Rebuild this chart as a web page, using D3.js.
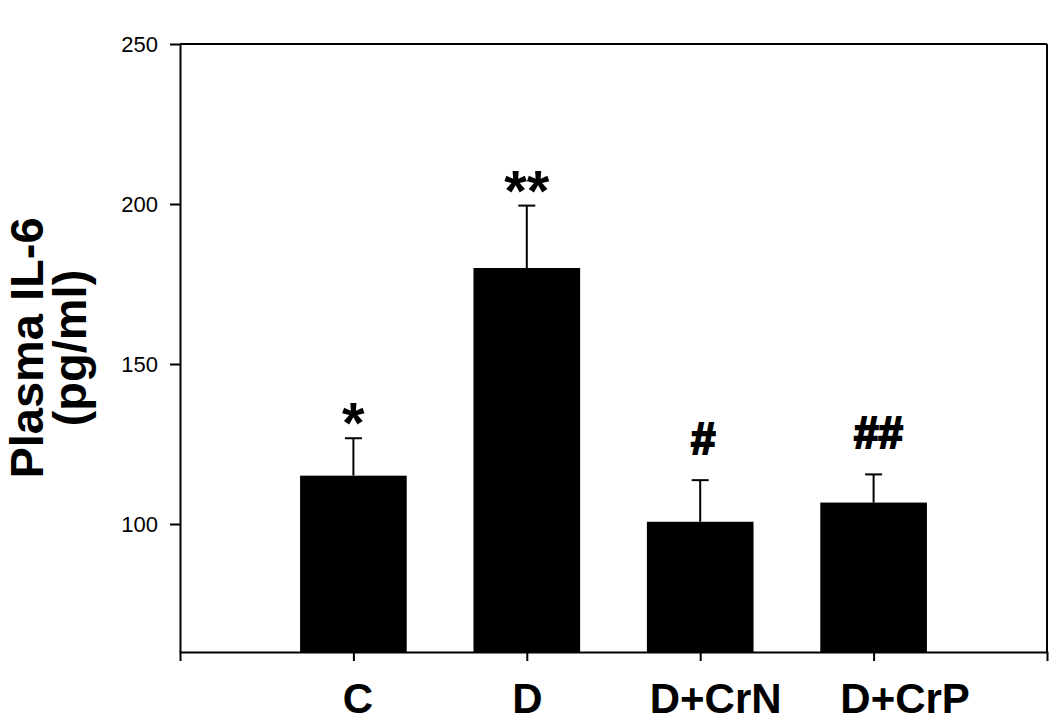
<!DOCTYPE html>
<html>
<head>
<meta charset="utf-8">
<script src="https://cdn.jsdelivr.net/npm/d3@7"></script>
<style>
  html, body { margin: 0; padding: 0; background: #fff; }
  svg { display: block; }
  text { font-family: "Liberation Sans", Arial, Helvetica, sans-serif; fill: #000; }
</style>
</head>
<body>
<svg id="chart" width="1050" height="721"></svg>
<script>
// ---- data ----
const categories = ["C", "D", "D+CrN", "D+CrP"];
const means = [115.1, 180.0, 100.7, 106.7];
const errors = [11.7, 19.5, 13.0, 8.8];
const marks = ["*", "**", "#", "##"];
const yTicks = [100, 150, 200, 250];
const yDomain = [60, 250];
const yLabelLines = ["Plasma IL-6", "(pg/ml)"];

// ---- layout ----
(function () {
const svg = d3.select("#chart");
const mLeft = 180, mRight = 1047, mTop = 44, mBottom = 652;
const labelNudge = [4, 0, 15, 31];   // horizontal offsets of category labels, px
const yLabelBaselines = [43, 86];    // x positions of the rotated label lines, px

const x = d3.scalePoint().domain(categories).range([mLeft, mRight]).padding(1);
const y = d3.scaleLinear().domain(yDomain).range([mBottom, mTop]);
const barW = x.step() * 0.615;

// bars
svg.append("g").selectAll("rect").data(categories).join("rect")
  .attr("x", (d) => x(d) - barW / 2)
  .attr("y", (d, i) => y(means[i]))
  .attr("width", barW)
  .attr("height", (d, i) => y(yDomain[0]) - y(means[i]))
  .attr("fill", "#000");

// error bars (upper only)
const eg = svg.append("g").attr("stroke", "#000").attr("stroke-width", 2);
categories.forEach((c, i) => {
  const cx = x(c), y0 = y(means[i]), y1 = y(means[i] + errors[i]);
  eg.append("line").attr("x1", cx).attr("x2", cx).attr("y1", y0).attr("y2", y1);
  eg.append("line").attr("x1", cx - 8.5).attr("x2", cx + 8.5).attr("y1", y1).attr("y2", y1);
});

// significance marks
categories.forEach((c, i) => {
  const m = marks[i];
  const yTop = y(means[i] + errors[i]);
  const isStar = m.indexOf("*") >= 0;
  const t = svg.append("text")
    .attr("x", x(c) + (isStar ? 0 : (m.length > 1 ? 5 : 3)))
    .attr("y", isStar ? yTop + 5 : yTop - 26)
    .attr("text-anchor", "middle")
    .attr("font-weight", "bold")
    .attr("font-size", isStar ? 58 : 44)
    .text(m);
  if (!isStar) t.attr("stroke", "#000").attr("stroke-width", 2).attr("stroke-linejoin", "miter");
});

// y axis
const yAxis = svg.append("g")
  .attr("transform", `translate(${mLeft},0)`)
  .call(d3.axisLeft(y).tickValues(yTicks).tickSize(10).tickSizeOuter(0).tickPadding(12));
yAxis.select(".domain").attr("stroke", "#000").attr("stroke-width", 2);
yAxis.selectAll(".tick line").attr("stroke", "#000").attr("stroke-width", 2);
yAxis.selectAll(".tick text").attr("font-size", 22).attr("font-family", null).style("fill", "#000");

// x axis
const xAxis = svg.append("g")
  .attr("transform", `translate(0,${mBottom})`)
  .call(d3.axisBottom(x).tickSize(9).tickSizeOuter(9).tickPadding(0));
xAxis.select(".domain").attr("stroke", "#000").attr("stroke-width", 2);
xAxis.selectAll(".tick line").attr("stroke", "#000").attr("stroke-width", 2);
xAxis.selectAll(".tick text")
  .attr("x", (d, i) => labelNudge[i])
  .attr("y", 61).attr("dy", 0)
  .attr("font-size", 42).attr("font-weight", "bold").attr("font-family", null)
  .style("fill", "#000");

// frame: top and right
svg.append("line").attr("x1", mLeft).attr("x2", mRight).attr("y1", y(250)).attr("y2", y(250))
  .attr("stroke", "#000").attr("stroke-width", 2);
svg.append("line").attr("x1", mRight).attr("x2", mRight).attr("y1", y(250)).attr("y2", mBottom)
  .attr("stroke", "#000").attr("stroke-width", 2);

// y label
const cy = (mTop + mBottom) / 2;
yLabelLines.forEach((t, i) => {
  svg.append("text")
    .attr("transform", `translate(${yLabelBaselines[i]},${cy}) rotate(-90)`)
    .attr("text-anchor", "middle")
    .attr("font-weight", "bold")
    .attr("font-size", 47)
    .text(t);
});
})();
</script>
</body>
</html>
